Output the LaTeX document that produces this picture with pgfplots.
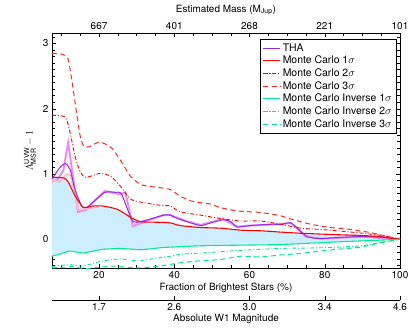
\documentclass[border=0pt]{standalone}
\usepackage{fontspec}
\setmainfont{TeX Gyre Heros}
\usepackage{pgfplots}
\usepackage{pgfplotstable}
\pgfplotsset{compat=1.18}

\definecolor{thapurple}{RGB}{150,40,240}
\definecolor{thaviolet}{RGB}{235,140,240}
\definecolor{thapink}{RGB}{255,185,200}
\definecolor{mcgreen}{RGB}{0,235,140}
\definecolor{mcred3}{RGB}{255,40,40}
\definecolor{fillblue}{RGB}{204,238,255}

% THA, smoothed
\pgfplotstableread{
x y
7.5 0.92
9.6 1.10
11 1.16
12.3 1.07
13.6 0.77
15.4 0.51
16.8 0.49
19.4 0.62
21.6 0.72
24.3 0.72
26 0.69
28.6 0.31
30 0.26
33.6 0.31
37.2 0.37
39 0.37
40.3 0.33
43.4 0.27
47 0.21
49.6 0.25
53.2 0.30
55 0.27
56.7 0.19
60.3 0.21
65.6 0.23
68.3 0.23
71 0.25
73.1 0.15
75.4 0.04
79 0.01
84.3 0.03
89.6 0.04
95 0.04
100 0
}\tha
% THA, raw
\pgfplotstableread{
x y
7.5 0.88
9 0.92
10.5 1.05
11.8 1.48
14.4 0.42
16.5 0.45
19 0.60
21.6 0.74
25.6 0.69
27 0.72
29 0.20
32.8 0.28
37 0.37
39 0.37
43 0.28
47 0.22
53 0.31
56.7 0.19
60 0.21
68 0.23
71 0.25
75 0.04
79 0.01
90 0.04
100 0
}\tharaw
\pgfplotstableread{
x y
7.5 0.90
9.5 0.88
11.5 1.00
12.5 0.97
14.5 0.45
17 0.47
20 0.50
}\thapink
\pgfplotstableread{
x y
7.5 0.95
10.6 0.94
11.8 0.88
13.6 0.67
15.8 0.49
18.4 0.51
21 0.51
24.8 0.46
28.3 0.34
31 0.27
36.3 0.26
39 0.25
41.6 0.21
47 0.18
52.3 0.17
57.6 0.14
63 0.13
68.3 0.11
74.4 0.09
83.5 0.07
92.3 0.05
100 0
}\mcone
\pgfplotstableread{
x y
7.5 1.90
10.8 1.88
11.8 1.76
12.8 1.50
13.6 1.28
15 1.03
16.3 0.95
18 0.97
20.3 1.01
23 0.97
25.6 0.82
28.3 0.62
31 0.57
36.3 0.52
39 0.51
41.6 0.42
47 0.37
52 0.32
57.6 0.28
63 0.28
68.3 0.23
73.6 0.17
79 0.15
87 0.11
95 0.06
100 0
}\mctwo
\pgfplotstableread{
x y
7.5 2.85
10.5 2.83
11.8 2.76
13 2.35
14 1.95
15 1.58
16 1.42
17.5 1.42
20 1.49
22 1.45
23.5 1.39
25.6 1.22
28.3 0.97
31 0.84
33.5 0.81
36.3 0.79
39 0.76
41.6 0.66
44.3 0.59
47 0.56
49.6 0.54
52 0.49
55 0.45
57.6 0.43
63 0.41
68.3 0.36
71 0.31
76.3 0.23
81.6 0.18
87 0.15
92.3 0.10
97.6 0.03
100 0
}\mcthree
\pgfplotstableread{
x y
7.5 -0.26
10 -0.22
12.3 -0.18
15.8 -0.21
20.3 -0.16
25.6 -0.14
31 -0.16
36.3 -0.13
39 -0.12
47 -0.10
57.6 -0.09
68.3 -0.08
83.4 -0.04
92 -0.02
100 0
}\invone
\pgfplotstableread{
x y
7.5 -0.42
9.6 -0.40
12.3 -0.39
15.8 -0.41
20.3 -0.34
25.6 -0.30
30 -0.33
35.4 -0.29
39 -0.26
41.5 -0.23
47 -0.21
57.6 -0.17
68.3 -0.14
79 -0.13
89.6 -0.10
96.7 -0.03
100 0
}\invtwo
\pgfplotstableread{
x y
7.5 -0.44
10 -0.43
13 -0.42
16 -0.45
20 -0.43
24 -0.41
30 -0.44
36.3 -0.41
41.6 -0.36
47 -0.33
52.3 -0.31
57.6 -0.26
63 -0.27
68.3 -0.24
73 -0.22
79 -0.18
84 -0.15
89.6 -0.12
95 -0.05
100 0
}\invthree
% shaded band: Monte Carlo 1 sigma down to Monte Carlo Inverse 1 sigma
\pgfplotstableread{
x y
7.5 0.95
10.6 0.94
11.8 0.88
13.6 0.67
15.8 0.49
18.4 0.51
21 0.51
24.8 0.46
28.3 0.34
31 0.27
36.3 0.26
39 0.25
41.6 0.21
47 0.18
52.3 0.17
57.6 0.14
63 0.13
68.3 0.11
74.4 0.09
83.5 0.07
92.3 0.05
100 0
92 -0.02
83.4 -0.04
68.3 -0.08
57.6 -0.09
47 -0.10
39 -0.12
36.3 -0.13
31 -0.16
25.6 -0.14
20.3 -0.16
15.8 -0.21
12.3 -0.18
10 -0.22
7.5 -0.26
}\band

\pgfplotsset{
  every axis/.append style={
    scale only axis, width=348bp,
    xmin=7.5, xmax=100,
    /pgf/number format/assume math mode=true,
    tick align=inside,
    tick style={black, line width=0.4pt},
    axis line style={line width=0.5pt},
  },
}

\begin{document}
\begin{tikzpicture}

% main plot
\begin{axis}[
  height=235bp,
  ymin=-0.44, ymax=3.16,
  xtick={20,40,60,80,100},
  minor xtick={10,15,25,30,35,45,50,55,65,70,75,85,90,95},
  ytick={0,1,2,3},
  minor ytick={-0.4,-0.3,-0.2,-0.1,0.1,0.2,0.3,0.4,0.5,0.6,0.7,0.8,0.9,1.1,1.2,1.3,1.4,1.5,1.6,1.7,1.8,1.9,2.1,2.2,2.3,2.4,2.5,2.6,2.7,2.8,2.9,3.1},
  xlabel={Fraction of Brightest Stars (\%)},
  ylabel={$\Lambda^{\mathrm{UVW}}_{\mathrm{MSR}} - 1$},
  xlabel style={yshift=3bp},
  legend style={at={(0.99,0.975)}, anchor=north east,
    font=\fontsize{10.5}{12}\selectfont, row sep=-0.6pt, inner sep=2.5pt},
  legend cell align=left,
  legend image post style={line width=1.2pt},
]
\addplot[fill=fillblue, draw=none, forget plot] table {\band} -- cycle;

\addplot[thaviolet, line width=2pt, forget plot] table {\tharaw};
\addplot[thapink, line width=1.8pt, forget plot] table {\thapink};

\addplot[thapurple, line width=1pt, smooth, tension=0.4] table {\tha};
\addlegendentry{THA}
\addplot[red, line width=1.1pt, smooth, tension=0.4] table {\mcone};
\addlegendentry{Monte Carlo 1$\sigma$}
\addplot[red, line width=0.9pt, dash pattern=on 4pt off 2pt on 1pt off 2pt,
  smooth, tension=0.4] table {\mctwo};
\addlegendentry{Monte Carlo 2$\sigma$}
\addplot[mcred3, line width=1pt, dash pattern=on 5pt off 3.5pt,
  smooth, tension=0.4] table {\mcthree};
\addlegendentry{Monte Carlo 3$\sigma$}
\addplot[mcgreen, line width=1.1pt, smooth, tension=0.4] table {\invone};
\addlegendentry{Monte Carlo Inverse 1$\sigma$}
\addplot[mcgreen, line width=0.9pt, dash pattern=on 4pt off 2pt on 1pt off 2pt,
  smooth, tension=0.4] table {\invtwo};
\addlegendentry{Monte Carlo Inverse 2$\sigma$}
\addplot[mcgreen, line width=1pt, dash pattern=on 5pt off 3.5pt,
  smooth, tension=0.4] table {\invthree};
\addlegendentry{Monte Carlo Inverse 3$\sigma$}
\end{axis}

% top axis: estimated mass
\begin{axis}[
  height=235bp,
  ymin=0, ymax=1,
  axis x line*=top, axis y line*=left,
  y axis line style={draw=none}, ytick=\empty,
  axis line style={-},
  xtick={20,40,60,80,100},
  xticklabels={667,401,268,221,101},
  major tick length=0pt,
  xlabel={Estimated Mass (M$_{\mathrm{Jup}}$)},
]
\addplot[draw=none] coordinates {(50,0.5)};
\end{axis}

% bottom axis: absolute magnitude
\begin{axis}[
  at={(0,-32bp)},
  height=10bp,
  ymin=0, ymax=1,
  axis x line*=bottom, axis y line*=left,
  y axis line style={draw=none}, ytick=\empty,
  axis line style={-},
  xtick={20,40,60,80,100},
  xticklabels={1.7,2.6,3.0,3.4,4.6},
  xlabel={Absolute W1 Magnitude},
  xlabel style={yshift=3bp},
]
\addplot[draw=none] coordinates {(50,0.5)};
\end{axis}

\pgfresetboundingbox
\path[use as bounding box] (-52bp,-61bp) rectangle (359bp,268bp);
\end{tikzpicture}
\end{document}
